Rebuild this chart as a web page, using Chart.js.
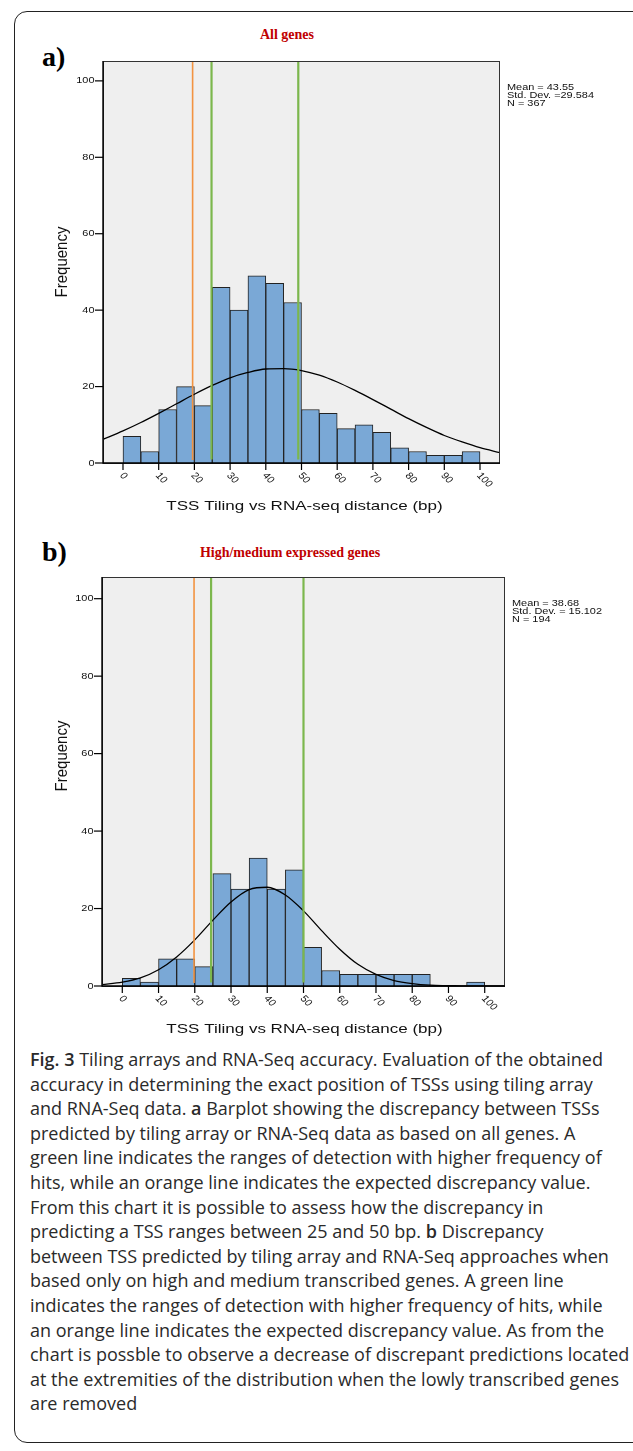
<!DOCTYPE html>
<html>
<head>
<meta charset="utf-8">
<script src="https://cdn.jsdelivr.net/npm/chart.js@4.4.1/dist/chart.umd.min.js"></script>
<style>
  body { margin: 0; background: #fff; }
  #page { position: relative; width: 633px; height: 1451px; overflow: hidden; background: #fff; }
  #frame { position: absolute; left: 14px; top: 11px; width: 680px; height: 1432px; border: 1.5px solid #222; border-radius: 13px; box-sizing: border-box; }
  .panel { position: absolute; font-family: "Liberation Serif", serif; font-weight: bold; font-size: 28px; line-height: 28px; color: #000; transform: translateY(-50%); }
  .ptitle { position: absolute; font-family: "Liberation Serif", serif; font-weight: bold; font-size: 14px; color: #c00000; transform: translate(-50%, -50%); white-space: nowrap; }
  .chartbox { position: absolute; left: 0; width: 633px; height: 520px; }
  #caption { position: absolute; left: 30px; top: 1047px; font-family: "Open Sans", sans-serif; font-size: 18px; line-height: 24.6px; color: #2a2a2a; white-space: nowrap; }
  #caption b { font-weight: 600; }
</style>
</head>
<body>
<div id="page">
  <div id="frame"></div>
  <div class="panel" style="left:42px; top:57px;">a)</div>
  <div class="ptitle" style="left:287px; top:35px;">All genes</div>
  <div class="chartbox" style="top:0px;"><canvas id="chartAll" width="633" height="520"></canvas></div>

  <div class="panel" style="left:42px; top:552px;">b)</div>
  <div class="ptitle" style="left:290px; top:553px;">High/medium expressed genes</div>
  <div class="chartbox" style="top:520px;"><canvas id="chartHigh" width="633" height="520"></canvas></div>

  <div id="caption">
    <b>Fig. 3</b> Tiling arrays and RNA-Seq accuracy. Evaluation of the obtained<br>
    accuracy in determining the exact position of TSSs using tiling array<br>
    and RNA-Seq data. <b>a</b> Barplot showing the discrepancy between TSSs<br>
    predicted by tiling array or RNA-Seq data as based on all genes. A<br>
    green line indicates the ranges of detection with higher frequency of<br>
    hits, while an orange line indicates the expected discrepancy value.<br>
    From this chart it is possible to assess how the discrepancy in<br>
    predicting a TSS ranges between 25 and 50 bp. <b>b</b> Discrepancy<br>
    between TSS predicted by tiling array and RNA-Seq approaches when<br>
    based only on high and medium transcribed genes. A green line<br>
    indicates the ranges of detection with higher frequency of hits, while<br>
    an orange line indicates the expected discrepancy value. As from the<br>
    chart is possble to observe a decrease of discrepant predictions located<br>
    at the extremities of the distribution when the lowly transcribed genes<br>
    are removed
  </div>
</div>

<script>
// classes do histograma (inicio de cada classe, largura 5 bp)
const binStart = [0, 5, 10, 15, 20, 25, 30, 35, 40, 45, 50, 55, 60, 65, 70, 75, 80, 85, 90, 95];
const binWidth = 5;

// frequencias
const freqAll = [7, 3, 14, 20, 15, 46, 40, 49, 47, 42, 14, 13, 9, 10, 8, 4, 3, 2, 2, 3];
const freqHigh = [2, 1, 7, 7, 5, 29, 25, 33, 25, 30, 10, 4, 3, 3, 3, 3, 3, 0, 0, 1];

// curva normal
const curveX = [-5.6, 0, 5, 10, 15, 20, 25, 30, 35, 40, 45, 50, 55, 60, 65, 70, 75, 80, 85, 90, 95, 100, 105.6];
const curveAll = [6.2, 8.4, 10.6, 13.0, 15.5, 18.0, 20.3, 22.3, 23.7, 24.6, 24.7, 24.2, 23.0, 21.2, 19.0, 16.6, 14.1, 11.6, 9.3, 7.2, 5.5, 4.0, 2.7];
const curveHigh = [0.35, 1.0, 2.1, 4.2, 7.5, 11.9, 17.0, 21.7, 24.9, 25.5, 23.5, 19.4, 14.3, 9.5, 5.6, 3.0, 1.4, 0.6, 0.2, 0.1, 0, 0, 0];

// eixos
const xTicks = [0, 10, 20, 30, 40, 50, 60, 70, 80, 90, 100];
const yTicks = [0, 20, 40, 60, 80, 100];
const xTitle = "TSS Tiling vs RNA-seq distance (bp)";
const yTitle = "Frequency";

// legenda de estatisticas
const statsAll = ["Mean = 43.55", "Std. Dev. =29.584", "N = 367"];
const statsHigh = ["Mean = 38.68", "Std. Dev. = 15.102", "N = 194"];

// linhas verticais (laranja = valor esperado, verde = faixa)
const orangeAll = 19.5;
const greenAll = [24.8, 49.1];
const orangeHigh = 19.8;
const greenHigh = [24.5, 50];

const TICK_SX = 1.15; // texto da figura original esta um pouco esticado na horizontal

function stretchText(ctx, txt, x, y, size, sx, align, baseline, angle) {
    ctx.save();
    ctx.translate(x, y);
    ctx.scale(sx, 1);
    if (angle) ctx.rotate(angle);
    ctx.font = size + 'px "Liberation Sans", Arial, sans-serif';
    ctx.textAlign = align;
    ctx.textBaseline = baseline;
    ctx.fillStyle = '#111';
    ctx.fillText(txt, 0, 0);
    ctx.restore();
}

const spssPlugin = {
    id: 'spss',
    beforeDatasetsDraw(chart) {
        const a = chart.chartArea;
        const ctx = chart.ctx;
        ctx.save();
        ctx.fillStyle = '#efefef';
        ctx.fillRect(a.left, a.top, a.right - a.left, a.bottom - a.top);
        ctx.restore();
    },
    afterDatasetsDraw(chart, args, opts) {
        const a = chart.chartArea;
        const ctx = chart.ctx;
        const xs = chart.scales.x;
        const ys = chart.scales.y;

        // moldura da area do grafico
        ctx.save();
        ctx.strokeStyle = '#333';
        ctx.lineWidth = 1;
        ctx.strokeRect(a.left + 0.5, a.top + 0.5, a.right - a.left - 1, a.bottom - a.top);
        ctx.strokeStyle = '#000';
        ctx.lineWidth = 1.4;
        ctx.beginPath();
        ctx.moveTo(a.left, a.top);
        ctx.lineTo(a.left, a.bottom);
        ctx.lineTo(a.right, a.bottom);
        ctx.stroke();

        // marcas do eixo y
        ctx.lineWidth = 1.2;
        yTicks.forEach((v) => {
            const py = ys.getPixelForValue(v);
            ctx.beginPath();
            ctx.moveTo(a.left - 8, py);
            ctx.lineTo(a.left, py);
            ctx.stroke();
            stretchText(ctx, String(v), a.left - 8.5, py, 9.5, TICK_SX, 'right', 'middle');
        });

        // marcas do eixo x
        xTicks.forEach((v) => {
            const px = xs.getPixelForValue(v);
            ctx.beginPath();
            ctx.moveTo(px, a.bottom);
            ctx.lineTo(px, a.bottom + 7);
            ctx.stroke();
            stretchText(ctx, String(v), px - 1.5, a.bottom + 11, 9.5, TICK_SX, 'left', 'middle', Math.atan(TICK_SX));
        });
        ctx.restore();

        // titulos dos eixos
        stretchText(ctx, yTitle, 63, opts.yTitleY, 15, 1.05, 'center', 'middle', -Math.PI / 2);
        stretchText(ctx, xTitle, 304.5, a.bottom + 43, 13.5, 1.26, 'center', 'middle');

        // estatisticas
        opts.stats.forEach((s, i) => {
            stretchText(ctx, s, a.right + 7, a.top + 26 + i * 8, 9.5, 1.15, 'left', 'middle');
        });
    }
};

function makeHistogram(canvasId, freq, curve, stats, orange, greens, pad, yMax, yTitleY) {
    const bars = binStart.map((s, i) => ({ x: s + binWidth / 2, y: freq[i] }));
    const curvePts = curveX.map((x, i) => ({ x: x, y: curve[i] }));

    const datasets = [
        {
            type: 'line',
            data: [{ x: orange, y: 0.8 }, { x: orange, y: yMax }],
            borderColor: '#f29341',
            borderWidth: 1.6,
            pointRadius: 0,
            order: 0,
        },
    ];
    greens.forEach((g) => {
        datasets.push({
            type: 'line',
            data: [{ x: g, y: 0.9 }, { x: g, y: yMax }],
            borderColor: '#7cb74d',
            borderWidth: 2.2,
            pointRadius: 0,
            order: 0,
        });
    });
    datasets.push({
        type: 'line',
        data: curvePts,
        borderColor: '#000',
        borderWidth: 1.3,
        pointRadius: 0,
        cubicInterpolationMode: 'monotone',
        order: 1,
    });
    datasets.push({
        type: 'bar',
        data: bars,
        backgroundColor: '#7aa8d6',
        borderColor: '#222',
        borderWidth: 1,
        barPercentage: 1,
        categoryPercentage: 1,
        order: 2,
    });

    return new Chart(document.getElementById(canvasId), {
        type: 'bar',
        data: { datasets: datasets },
        options: {
            responsive: false,
            animation: false,
            layout: { padding: pad },
            plugins: {
                legend: { display: false },
                tooltip: { enabled: false },
                spss: { stats: stats, yTitleY: yTitleY },
            },
            scales: {
                x: { type: 'linear', display: false, min: -5.6, max: 105.6, offset: false },
                y: { type: 'linear', display: false, min: 0, max: yMax },
            },
        },
        plugins: [spssPlugin],
    });
}

makeHistogram('chartAll', freqAll, curveAll, statsAll, orangeAll, greenAll,
    { left: 103, right: 133, top: 61, bottom: 57 }, 105.2, 262);
makeHistogram('chartHigh', freqHigh, curveHigh, statsHigh, orangeHigh, greenHigh,
    { left: 102, right: 128, top: 57, bottom: 54 }, 105.6, 236);
</script>
</body>
</html>
